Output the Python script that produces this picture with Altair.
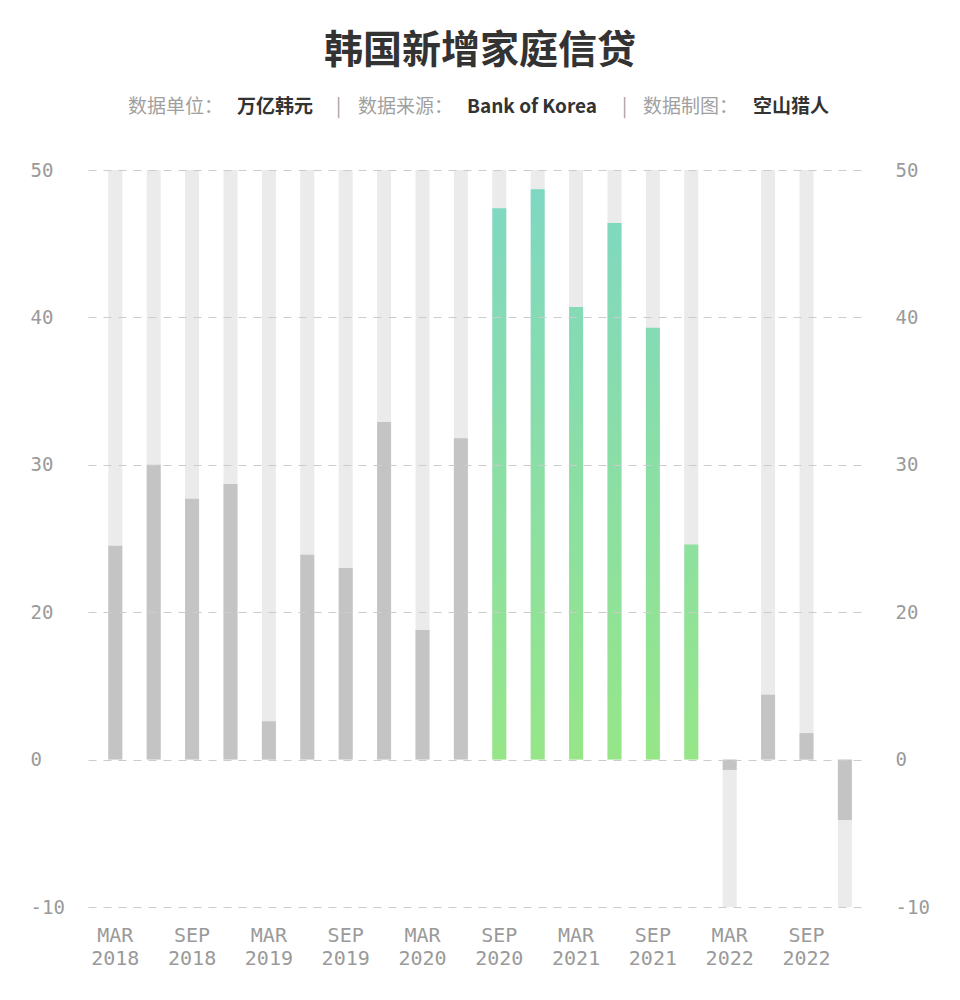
import altair as alt
import pandas as pd

# ---- data ----
quarters = ["MAR 2018", "JUN 2018", "SEP 2018", "DEC 2018",
            "MAR 2019", "JUN 2019", "SEP 2019", "DEC 2019",
            "MAR 2020", "JUN 2020", "SEP 2020", "DEC 2020",
            "MAR 2021", "JUN 2021", "SEP 2021", "DEC 2021",
            "MAR 2022", "JUN 2022", "SEP 2022", "DEC 2022"]
values = [14.5, 20.0, 17.7, 18.7,
          2.6, 13.9, 13.0, 22.9,
          8.8, 21.8, 37.4, 38.7,
          30.7, 36.4, 29.3, 14.6,
          -0.7, 4.4, 1.8, -4.1]
highlight = ["SEP 2020", "DEC 2020", "MAR 2021", "JUN 2021", "SEP 2021", "DEC 2021"]
labelled_months = ["MAR", "SEP"]

y_tick_values = [-10, 0, 10, 20, 30, 40]
y_tick_labels = ["-10", "0", "20", "30", "40", "50"]   # as printed on the reference

title_text = "韩国新增家庭信贷"
subtitle_parts = ["数据单位：", "万亿韩元", "|", "数据来源：", "Bank of Korea", "|", "数据制图：", "空山猎人"]

# ---- styling ----
BG = "#ebebeb"
GRAY = "#c4c4c4"
TEAL = "#7ed7c4"
GREEN = "#96e688"
LABEL = "#9a9a9a"
DARK = "#333333"
MONO = "DejaVu Sans Mono"
CJK = "Noto Sans CJK SC"
Y_TOP = 40
Y_BOTTOM = -10

df = pd.DataFrame({"quarter": quarters, "value": values})
df["hl"] = df["quarter"].isin(highlight)

yscale = alt.Scale(domain=[Y_BOTTOM, Y_TOP], nice=False, zero=False)
xscale = alt.Scale(domain=quarters, paddingInner=0.6354, paddingOuter=0.461, align=0.573)

label_map = "[" + ",".join("'%s'" % s for s in y_tick_labels) + "][indexof([" + \
    ",".join(str(v) for v in y_tick_values) + "], datum.value)]"
month_list = "[" + ",".join("'%s'" % m for m in labelled_months) + "]"

x_axis = alt.Axis(
    title=None, domain=False, ticks=False, labelAngle=0, labelOverlap=False,
    labelFont=MONO, labelFontSize=20, labelLineHeight=23, labelColor=LABEL,
    labelPadding=18, labelBaseline="top",
    labelExpr="indexof(" + month_list + ", slice(datum.label, 0, 3)) >= 0 ? split(datum.label, ' ') : ''",
)
X = alt.X("quarter:N", scale=xscale, sort=quarters, axis=x_axis)

left_axis = alt.Axis(
    orient="left", title=None, domain=False, ticks=False, values=y_tick_values,
    labelExpr=label_map, labelFont=MONO, labelFontSize=19, labelColor=LABEL,
    labelAlign="left", labelPadding=58, grid=True, gridColor="#cccccc",
    gridDash=[8, 7], gridWidth=1, zindex=1,
)
right_axis = alt.Axis(
    orient="right", title=None, domain=False, ticks=False, values=y_tick_values,
    labelExpr=label_map, labelFont=MONO, labelFontSize=19, labelColor=LABEL,
    labelAlign="left", labelPadding=28, grid=False,
)

base = alt.Chart(df).transform_calculate(
    zero="0", bg="datum.value >= 0 ? %d : %d" % (Y_TOP, Y_BOTTOM)
)

bg = base.mark_bar(color=BG).encode(
    x=X,
    y=alt.Y("bg:Q", scale=yscale, axis=left_axis),
    y2="zero:Q",
)

right = base.mark_bar(opacity=0).encode(
    x=X,
    y=alt.Y("bg:Q", scale=yscale, axis=right_axis),
    y2="zero:Q",
)

gray = base.transform_filter("!datum.hl").mark_bar(color=GRAY).encode(
    x=X,
    y=alt.Y("value:Q", scale=yscale, axis=None),
    y2="zero:Q",
)

layers = [bg, gray]
for q in highlight:
    v = values[quarters.index(q)]
    grad = alt.Gradient(
        gradient="linear",
        stops=[alt.GradientStop(color=TEAL, offset=0), alt.GradientStop(color=GREEN, offset=1)],
        x1=0, x2=0, y1=1 - Y_TOP / v, y2=1,
    )
    layers.append(
        base.transform_filter(alt.datum.quarter == q).mark_bar(color=grad).encode(
            x=X,
            y=alt.Y("value:Q", scale=yscale, axis=None),
            y2="zero:Q",
        )
    )
layers.append(right)

# title
title = alt.Chart(pd.DataFrame({"t": [title_text]})).mark_text(
    font=CJK, fontSize=39, fontWeight="bold", color=DARK, align="center", baseline="middle"
).encode(text="t:N", x=alt.value(392), y=alt.value(-119))
layers.append(title)

# subtitle pieces (label / value pairs)
sub_x = [40, 149, 248, 270, 379, 534, 555, 665]
for i, part in enumerate(subtitle_parts):
    bold = i in (1, 4, 7)
    layers.append(
        alt.Chart(pd.DataFrame({"t": [part]})).mark_text(
            font=CJK, fontSize=19, fontWeight="bold" if bold else "normal",
            color=DARK if bold else "#a0a0a0", align="left", baseline="middle"
        ).encode(text="t:N", x=alt.value(sub_x[i]), y=alt.value(-63))
    )

chart = alt.layer(*layers).resolve_axis(y="independent").properties(
    width=779, height=737,
    padding={"left": 80, "top": 162, "right": 85, "bottom": 75},
    autosize=alt.AutoSizeParams(type="none"),
    background="white",
).configure_view(strokeWidth=0, stroke=None)

chart.save("out.html", embed_options={"renderer": "svg", "actions": False})
